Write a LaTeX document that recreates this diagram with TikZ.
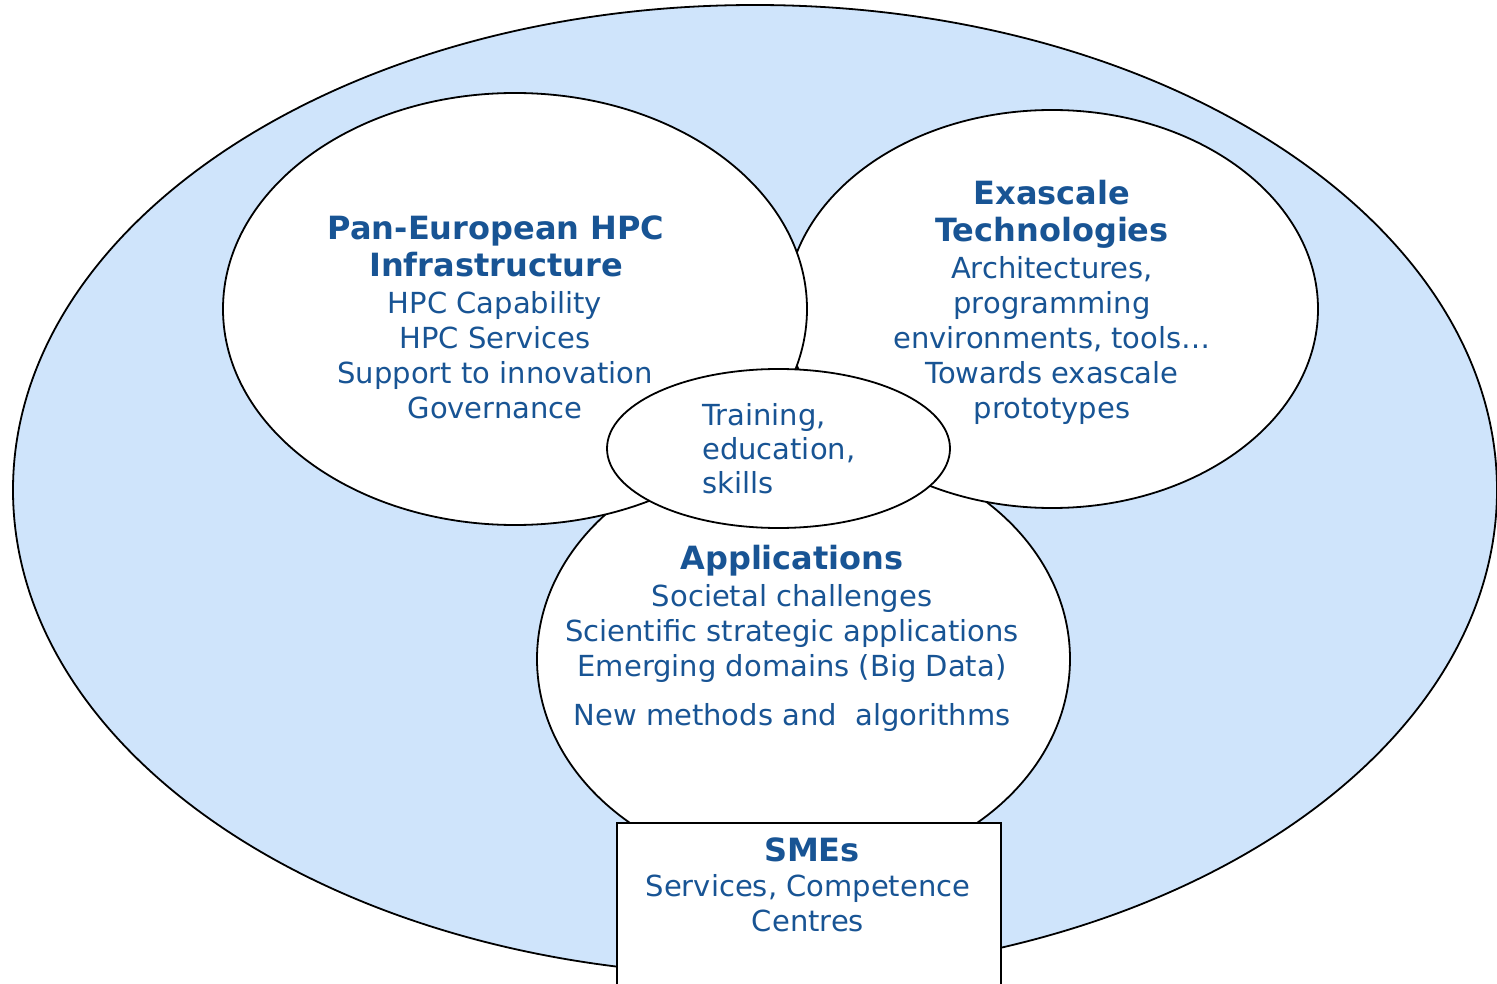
\documentclass[tikz,border=0pt]{standalone}
\usepackage{fontspec}
\setmainfont{DejaVu Sans}
\usetikzlibrary{shapes.geometric}
\definecolor{bgblue}{RGB}{207,228,251}
\definecolor{txtblue}{RGB}{24,84,148}
\tikzset{
  oval/.style={ellipse, draw=black, line width=1.8pt, fill=white, inner sep=0pt},
  boxnode/.style={rectangle, draw=black, line width=1.8pt, fill=white, inner sep=0pt},
  body/.style={text=txtblue, align=center, inner sep=0pt, font=\fontsize{29}{35}\selectfont},
  title/.style={text=txtblue, align=center, inner sep=0pt, font=\fontsize{32}{37}\selectfont\bfseries},
}
\begin{document}
\begin{tikzpicture}[x=1pt,y=-1pt]
\useasboundingbox (0,0) rectangle (1497,984);
\clip (0,0) rectangle (1497,984);
% outer ellipse
\node[oval, fill=bgblue, minimum width=1484pt, minimum height=970pt] (outer) at (755,490) {};
% applications
\node[oval, minimum width=533pt, minimum height=432pt] (app) at (803.5,659) {};
% exascale
\node[oval, minimum width=532pt, minimum height=398pt] (exa) at (1052,309) {};
% pan-european
\node[oval, minimum width=584pt, minimum height=432pt] (pan) at (515,309) {};
% training
\node[oval, minimum width=343pt, minimum height=159pt] (train) at (778.5,448.5) {};
% SMEs box
\node[boxnode, minimum width=384pt, minimum height=200pt] (sme) at (809,923) {};

% texts
\node[title] (pantitle) at (496,246) {Pan-European HPC\\Infrastructure};
\node[body] (panbody) at (495,355) {HPC Capability\\HPC Services\\Support to innovation\\Governance};

\node[title] (exatitle) at (1052,214) {Exascale\\Technologies};
\node[body] (exabody) at (1052,340.5) {Architectures,\\programming\\environments, tools…\\Towards exascale\\prototypes};

\node[body, align=left, anchor=west, font=\fontsize{29}{34}\selectfont] (traintext) at (702,448.5) {Training,\\education,\\skills};

\node[title] (apptitle) at (792,561) {Applications};
\node[body] (appbody) at (792,657.5) {Societal challenges\\Scientific strategic applications\\Emerging domains (Big Data)\\[14pt]New methods and\ \ algorithms};

\node[title] (smetitle) at (812,850) {SMEs};
\node[body] (smebody) at (808,903) {Services, Competence\\Centres};
\end{tikzpicture}
\end{document}
